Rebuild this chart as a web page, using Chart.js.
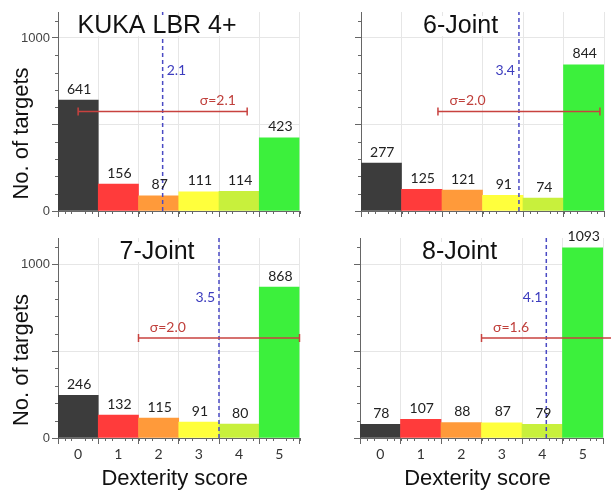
<!DOCTYPE html>
<html>
<head>
<meta charset="UTF-8">
<title>Dexterity score</title>
<script src="https://cdn.jsdelivr.net/npm/chart.js@4.4.1/dist/chart.umd.min.js"></script>
<style>
  body { margin: 0; width: 611px; height: 490px; overflow: hidden; background: #fff; position: relative; }
  canvas { position: absolute; }
</style>
</head>
<body>
<canvas id="kuka" width="305" height="235" style="left:0;top:0"></canvas>
<canvas id="joint6" width="306" height="235" style="left:305px;top:0"></canvas>
<canvas id="joint7" width="305" height="265" style="left:0;top:225px"></canvas>
<canvas id="joint8" width="306" height="265" style="left:305px;top:225px"></canvas>

<script>
    // values
    var scores = [0, 1, 2, 3, 4, 5];
    var kukaTargets = [641, 156, 87, 111, 114, 423];
    var joint6Targets = [277, 125, 121, 91, 74, 844];
    var joint7Targets = [246, 132, 115, 91, 80, 868];
    var joint8Targets = [78, 107, 88, 87, 79, 1093];
    var panelTitles = ['KUKA LBR 4+', '6-Joint', '7-Joint', '8-Joint'];
    var meanScores = [2.1, 3.4, 3.5, 4.1];
    var sigmas = [2.1, 2.0, 2.0, 1.6];
    var yTicks = [0, 500, 1000];
    var yMax = 1150;
    var sigmaY = 575;       // height of the sigma bar
    var meanLabelY = 810;   // height of the mean label
    var xTitle = 'Dexterity score';
    var yTitle = 'No. of targets';

    var barColors = ['#3c3c3c', '#ff3b3b', '#ff9a3a', '#ffff3c', '#c8f03c', '#3cf03c'];
    var axisColor = '#666';
    var gridColor = '#e6e6e6';

    var panels = [
        { id: 'kuka', counts: kukaTargets, pad: { left: 0, right: 3, top: 12, bottom: 0 }, yWidth: 58, xHeight: 24, left: true, bottom: false, meanSide: 'right', sigmaSide: 'right' },
        { id: 'joint6', counts: joint6Targets, pad: { left: 0, right: 7, top: 12, bottom: 0 }, yWidth: 56, xHeight: 24, left: false, bottom: false, meanSide: 'left', sigmaSide: 'left' },
        { id: 'joint7', counts: joint7Targets, pad: { left: 0, right: 3, top: 13, bottom: 0 }, yWidth: 58, xHeight: 52, left: true, bottom: true, meanSide: 'left', sigmaSide: 'left' },
        { id: 'joint8', counts: joint8Targets, pad: { left: 0, right: 8, top: 13, bottom: 0 }, yWidth: 55, xHeight: 52, left: false, bottom: true, meanSide: 'left', sigmaSide: 'left' }
    ];

    function makeDecor(p, i) {
        return {
            id: 'decor',
            afterDatasetsDraw: function (chart) {
                var ctx = chart.ctx, xs = chart.scales.x, ys = chart.scales.y, ca = chart.chartArea;
                var mean = meanScores[i], sd = sigmas[i];
                ctx.save();
                ctx.textBaseline = 'middle';

                // counts above bars
                ctx.font = '14px Lato';
                ctx.fillStyle = '#222';
                ctx.textAlign = 'center';
                chart.getDatasetMeta(0).data.forEach(function (bar, k) {
                    ctx.fillText(String(p.counts[k]), bar.x + 1, bar.y - 11);
                });

                // mean label
                ctx.fillStyle = '#3c3cbe';
                var mx = xs.getPixelForValue(mean);
                ctx.textAlign = p.meanSide === 'right' ? 'left' : 'right';
                ctx.fillText(mean.toFixed(1), mx + (p.meanSide === 'right' ? 4 : -4), ys.getPixelForValue(meanLabelY));

                // sigma label
                ctx.fillStyle = '#c0403c';
                ctx.textAlign = 'center';
                var sv = p.sigmaSide === 'left' ? mean - sd + 0.73 : mean + sd - 0.73;
                ctx.fillText('σ=' + sd.toFixed(1), xs.getPixelForValue(sv), ys.getPixelForValue(sigmaY) - 11);

                // panel title on a white box
                ctx.font = '25px "Liberation Sans"';
                var tx = ca.left + ca.width * 0.41, ty = ca.top + 14;
                var w = ctx.measureText(panelTitles[i]).width;
                ctx.fillStyle = '#fff';
                ctx.fillRect(tx - w / 2 - 1, ty - 10, w + 2, 20);
                ctx.fillStyle = '#111';
                ctx.fillText(panelTitles[i], tx, ty);
                ctx.restore();
            },
            afterDraw: function (chart) {
                var ctx = chart.ctx, xs = chart.scales.x, ys = chart.scales.y, ca = chart.chartArea;
                ctx.save();

                // minor ticks
                ctx.strokeStyle = axisColor;
                ctx.lineWidth = 1;
                ctx.beginPath();
                for (var v = 100; v < yMax; v += 100) {
                    if (v % 500 === 0) continue;
                    var py = Math.round(ys.getPixelForValue(v)) + 0.5;
                    ctx.moveTo(ca.left - 3, py);
                    ctx.lineTo(ca.left, py);
                }
                for (var k = -3; k <= 33; k++) {
                    if (k % 6 === 0) continue;
                    var px = Math.round(xs.getPixelForValue(k / 6)) + 0.5;
                    ctx.moveTo(px, ca.bottom);
                    ctx.lineTo(px, ca.bottom + 3);
                }
                ctx.stroke();

                // axis titles
                ctx.fillStyle = '#111';
                ctx.font = '22px "Liberation Sans"';
                ctx.textAlign = 'center';
                ctx.textBaseline = 'alphabetic';
                if (p.bottom) {
                    ctx.fillText(xTitle, (ca.left + ca.right) / 2 - 4, ca.bottom + 47);
                }
                if (p.left) {
                    ctx.translate(28, (ca.top + ca.bottom) / 2 + 22);
                    ctx.rotate(-Math.PI / 2);
                    ctx.fillText(yTitle, 0, 0);
                }
                ctx.restore();
            }
        };
    }

    function createChart(p, i) {
        var mean = meanScores[i], sd = sigmas[i];
        new Chart(document.getElementById(p.id), {
            type: 'bar',
            data: {
                datasets: [
                    {
                        type: 'bar', order: 2,
                        data: scores.map(function (s, k) { return { x: s, y: p.counts[k] }; }),
                        backgroundColor: barColors, borderWidth: 0,
                        barPercentage: 1, categoryPercentage: 1
                    },
                    {
                        type: 'line', order: 1,
                        data: [{ x: mean, y: 0 }, { x: mean, y: yMax }],
                        borderColor: '#4a4ac4', borderWidth: 1.5, borderDash: [4, 3], pointRadius: 0
                    },
                    {
                        type: 'line', order: 0, clip: false,
                        data: [{ x: mean - sd, y: sigmaY }, { x: mean + sd, y: sigmaY }],
                        borderColor: '#c8423f', borderWidth: 1.5,
                        pointStyle: 'line', pointRotation: 90, pointRadius: 4,
                        pointBorderColor: '#c8423f', pointBorderWidth: 1.5
                    }
                ]
            },
            options: {
                responsive: false,
                animation: false,
                events: [],
                layout: { padding: p.pad },
                plugins: { legend: { display: false }, tooltip: { enabled: false } },
                scales: {
                    x: {
                        type: 'linear', min: -0.5, max: 5.5, offset: false,
                        afterBuildTicks: function (s) { s.ticks = scores.map(function (v) { return { value: v }; }); },
                        afterFit: function (s) { s.height = p.xHeight; },
                        grid: { color: gridColor, tickColor: axisColor, tickLength: 6 },
                        border: { color: axisColor },
                        ticks: { display: p.bottom, padding: 2, color: '#333', font: { family: 'Lato', size: 14 } }
                    },
                    y: {
                        min: 0, max: yMax,
                        afterBuildTicks: function (s) { s.ticks = yTicks.map(function (v) { return { value: v }; }); },
                        afterFit: function (s) { s.width = p.yWidth; },
                        grid: { color: gridColor, tickColor: axisColor, tickLength: 6 },
                        border: { color: axisColor },
                        ticks: {
                            display: p.left, padding: 2, color: '#444', font: { family: 'Liberation Sans', size: 13 },
                            callback: function (v) { return v === 500 ? '' : v; }
                        }
                    }
                }
            },
            plugins: [makeDecor(p, i)]
        });
    }

    panels.forEach(createChart);
</script>
</body>
</html>
